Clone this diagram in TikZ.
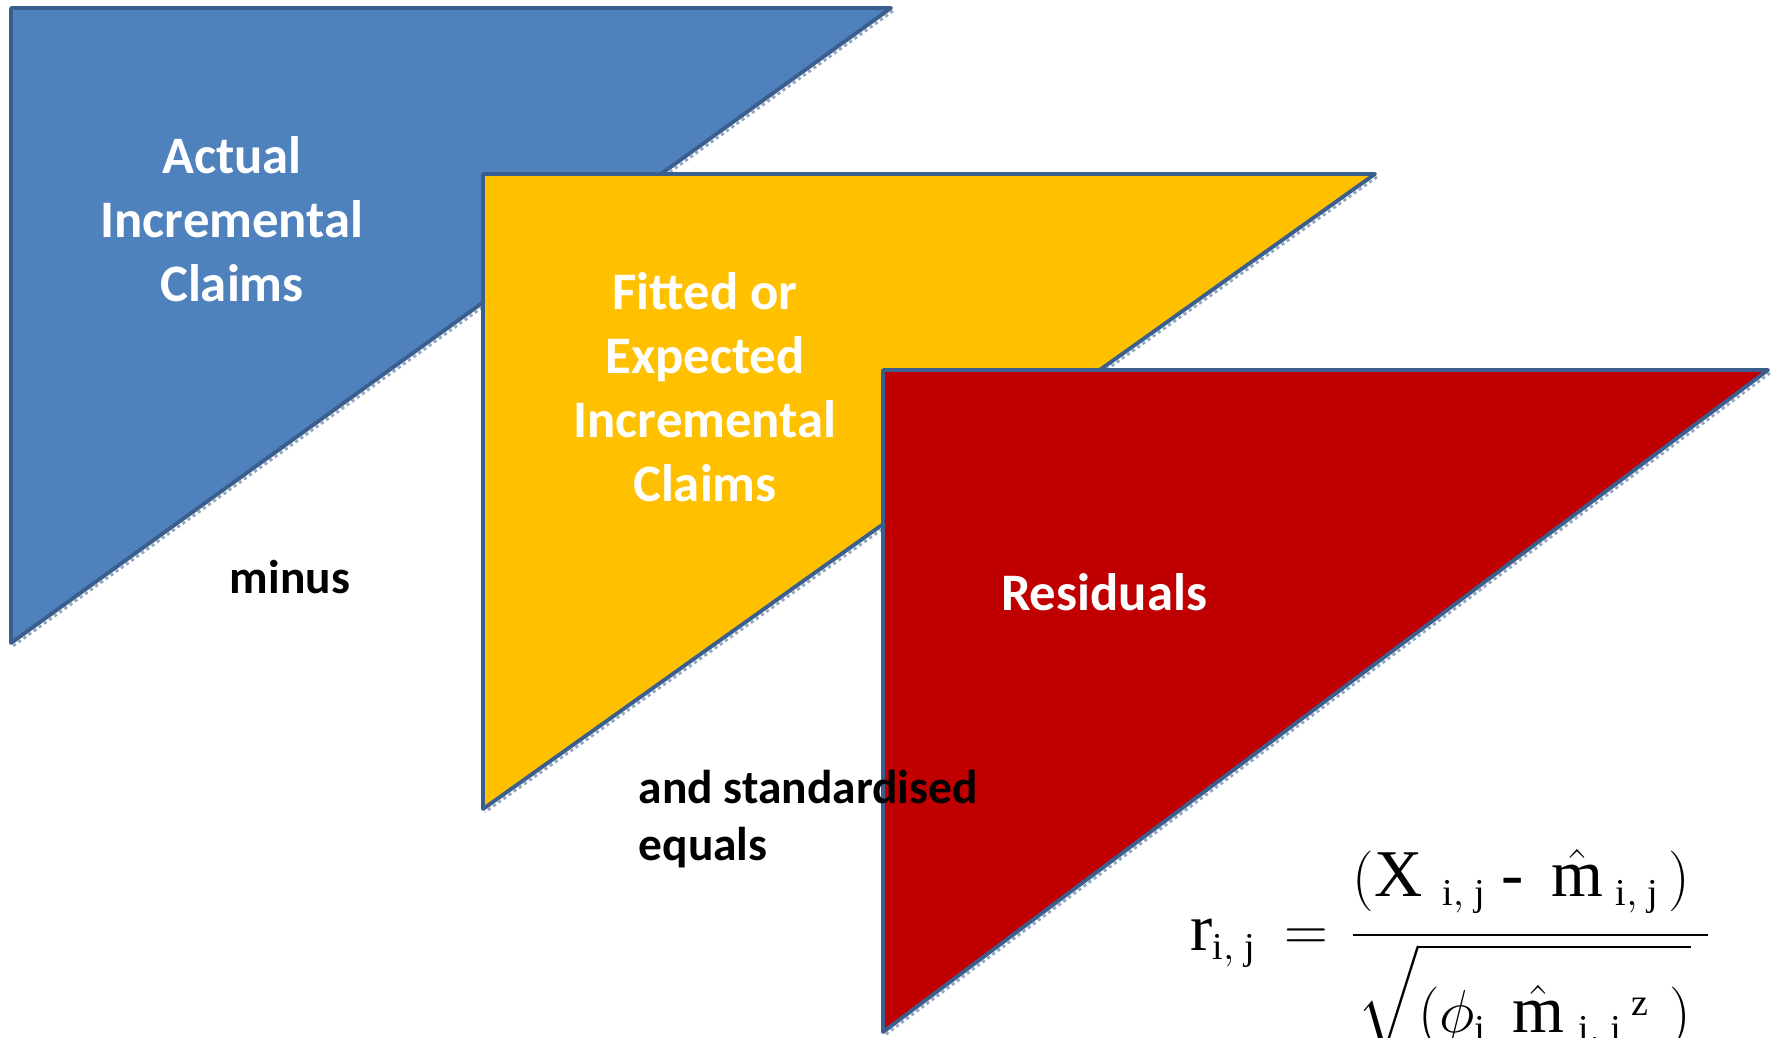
\documentclass[tikz,border=0pt]{standalone}
\usepackage{amsmath}
\usepackage{fontspec}
\setmainfont{Liberation Serif}
\setmathrm{Liberation Serif}
\newfontfamily\labelfont{Carlito}
\DeclareMathSizes{19}{19}{10.8}{8}
\definecolor{actualblue}{HTML}{4F81BD}
\definecolor{fittedgold}{HTML}{FFC000}
\definecolor{residred}{HTML}{C00000}
\definecolor{edgeblue}{HTML}{3A5F8E}
\tikzset{
  tri/.style={draw=edgeblue, line width=1.1pt, line join=round},
  hypshadow/.style={draw=edgeblue!55, line width=0.8pt, dash pattern=on 0.9pt off 0.9pt},
  whitelabel/.style={text=white, align=center, inner sep=0pt,
    font=\labelfont\bfseries\fontsize{15}{18.2}\selectfont},
  blacklabel/.style={text=black, inner sep=0pt,
    font=\labelfont\bfseries\fontsize{13.5}{16}\selectfont},
}
\begin{document}
\begin{tikzpicture}[x=0.1mm,y=-0.1mm]
\path[use as bounding box, clip] (0,0) rectangle (1775,1037);

% the three triangles, each with a soft edge along its long side
\draw[tri, fill=actualblue] (11,8) -- (891,8) -- (11,643) -- cycle;
\draw[hypshadow] (893,11) -- (13,646);
\draw[tri, fill=fittedgold] (483,174) -- (1375,174) -- (483,809) -- cycle;
\draw[hypshadow] (1377,177) -- (485,812);
\draw[tri, fill=residred] (883,370) -- (1768,370) -- (883,1032) -- cycle;
\draw[hypshadow] (1770,373) -- (885,1035);

\node[whitelabel] (actual) at (232,219) {Actual\\Incremental\\Claims};
\node[whitelabel] (fitted) at (705,387) {Fitted or\\Expected\\Incremental\\Claims};
\node[whitelabel] (resid) at (1104,592) {Residuals};

\node[blacklabel] (minus) at (290,577) {minus};
\node[blacklabel, anchor=base west] (stand) at (638,803) {and standardised};
\node[blacklabel, anchor=base west] (equals) at (638,860) {equals};

% r_ij formula
\node[anchor=base west, inner sep=0pt, font=\fontsize{19}{22}\selectfont] (formula) at (1190,950)
  {$\mathrm{r}_{\mathrm{i,\;j}}\hspace{1mm}=\hspace{0.4mm}\dfrac{\rule[-3mm]{0pt}{1mm}(\mathrm{X}\hspace{2mm}{}_{\mathrm{i,\;j}}\hspace{1.5mm}\mbox{-}\hspace{2.7mm}\hat{\mathrm{m}}\hspace{1.3mm}{}_{\mathrm{i,\;j}}\hspace{0.8mm})\hspace{1.8mm}}{\sqrt{\rule{0pt}{7.6mm}(\phi_{\mathrm{j}}\hspace{2.5mm}\hat{\mathrm{m}}\hspace{1.5mm}{}_{\mathrm{i,\;j}}\hspace{0.8mm}{}^{\mathrm{z}}\hspace{2mm})}\hspace{1.2mm}}$};
\end{tikzpicture}
\end{document}
